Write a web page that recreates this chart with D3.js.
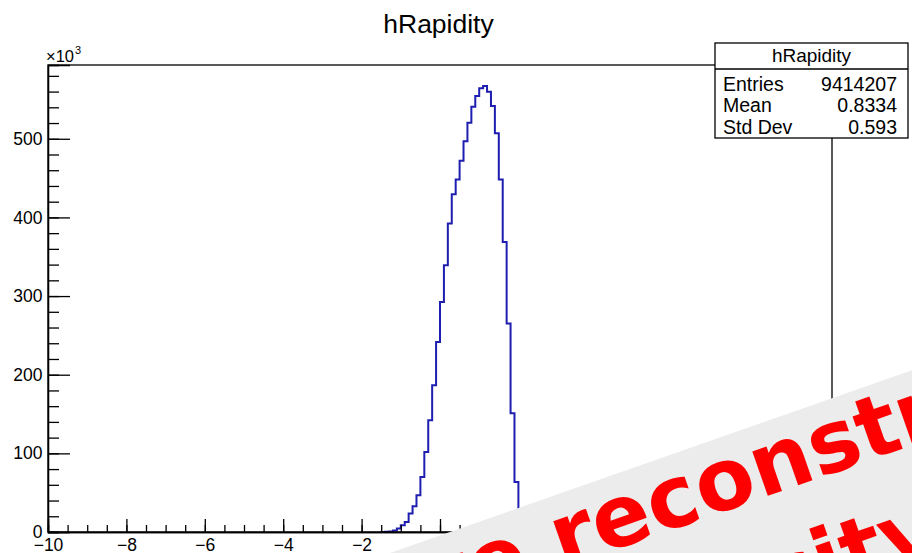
<!DOCTYPE html>
<html><head><meta charset="utf-8">
<script src="https://cdn.jsdelivr.net/npm/d3@7"></script>
<style>body{margin:0;background:#fff;} svg{display:block;}</style>
</head><body>
<svg id="c" width="912" height="553"></svg>
<script>
// ---- data (counts in units of 10^3 per 0.1-wide bin) ----
const binLeft = [-1.5,-1.4,-1.3,-1.2,-1.1,-1.0,-0.9,-0.8,-0.7,-0.6,-0.5,-0.4,-0.3,-0.2,-0.1,0.0,0.1,0.2,0.3,0.4,0.5,0.6,0.7,0.8,0.9,1.0,1.1,1.2,1.3,1.4,1.5,1.6,1.7,1.8,1.9,2.0,2.1];
const counts = [0.05,0.2,0.6,2,4.5,8.5,12.8,23.4,32.7,46.7,70,101.8,142,186.6,241.7,292.6,339.3,392.4,429.4,448.3,472,497,520.4,540.7,554.3,564.1,567,559.8,541.6,506.9,448.3,368.9,265.1,151,63.6,8,0.8];
const binWidth = 0.1;
const xMajorTicks = [-10,-8,-6,-4,-2,0,2,4,6,8,10];
const xMinorTicks = [-10,-9.5,-9,-8.5,-8,-7.5,-7,-6.5,-6,-5.5,-5,-4.5,-4,-3.5,-3,-2.5,-2,-1.5,-1,-0.5,0,0.5,1,1.5,2,2.5,3,3.5,4,4.5,5,5.5,6,6.5,7,7.5,8,8.5,9,9.5,10];
const yMajorTicks = [0,100,200,300,400,500];
const yMinorTicks = [0,20,40,60,80,100,120,140,160,180,200,220,240,260,280,300,320,340,360,380,400,420,440,460,480,500,520,540,560,580];
const statsLabels = ["Entries","Mean","Std Dev"];
const statsValues = ["9414207","0.8334","0.593"];
const histName = "hRapidity";
const bannerLines = ["Before reconstruction","of velocity"];

const svg = d3.select("#c");
const W = 912, H = 553;
const L = 48, R = 832, T = 65, B = 532;
const x = d3.scaleLinear().domain([-10,10]).range([L,R]);
const y = d3.scaleLinear().domain([0,593.8]).range([B,T]);
const font = "'Liberation Sans', Arial, Helvetica, sans-serif";

svg.append("rect").attr("width",W).attr("height",H).attr("fill","#fff");

// title
svg.append("text").attr("x",438.5).attr("y",33).attr("text-anchor","middle")
  .attr("font-family",font).attr("font-size",26.5).attr("fill","#000").text(histName);

// histogram step line
const pts = [[x(binLeft[0]), y(0)]];
binLeft.forEach((b,i)=>{ pts.push([x(b), y(counts[i])]); pts.push([x(b+binWidth), y(counts[i])]); });
pts.push([x(binLeft[binLeft.length-1]+binWidth), y(0)]);
svg.append("path").attr("d", d3.line()(pts)).attr("fill","none")
  .attr("stroke","#1e1eb0").attr("stroke-width",2);

// frame
svg.append("rect").attr("x",L).attr("y",T).attr("width",R-L).attr("height",B-T)
  .attr("fill","none").attr("stroke","#000").attr("stroke-width",1.3);

// x axis
const gx = svg.append("g").attr("transform",`translate(0,${B})`);
gx.call(d3.axisBottom(x).tickValues(xMinorTicks).tickSize(-7).tickFormat(""));
const gx2 = svg.append("g").attr("transform",`translate(0,${B})`);
gx2.call(d3.axisBottom(x).tickValues(xMajorTicks).tickSize(-13).tickPadding(7).tickFormat(d3.format("d")));
[gx,gx2].forEach(g=>{
  g.select(".domain").attr("stroke","#000").attr("stroke-width",1.3);
  g.selectAll(".tick line").attr("stroke","#000").attr("stroke-width",1.3);
  g.selectAll("text").attr("font-family",font).attr("font-size",17.5).attr("fill","#000");
});

// y axis
const gy = svg.append("g").attr("transform",`translate(${L},0)`);
gy.call(d3.axisLeft(y).tickValues(yMinorTicks).tickSize(-11).tickFormat(""));
const gy2 = svg.append("g").attr("transform",`translate(${L},0)`);
gy2.call(d3.axisLeft(y).tickValues(yMajorTicks).tickSize(-22).tickPadding(5.5).tickFormat(d3.format("d")));
[gy,gy2].forEach(g=>{
  g.select(".domain").attr("stroke","#000").attr("stroke-width",1.3);
  g.selectAll(".tick line").attr("stroke","#000").attr("stroke-width",1.3);
  g.selectAll("text").attr("font-family",font).attr("font-size",17.5).attr("fill","#000");
});

// x10^3 multiplier
const mult = svg.append("text").attr("x",46).attr("y",62).attr("font-family",font).attr("font-size",16.5).attr("fill","#000");
mult.append("tspan").text("\u00d710");
mult.append("tspan").attr("font-size",11).attr("dy",-8.5).attr("dx",1).text("3");

// stats box
const bx = 715, by = 43, bw = 193, bh = 95;
svg.append("rect").attr("x",bx).attr("y",by).attr("width",bw).attr("height",bh)
  .attr("fill","#fff").attr("stroke","#000").attr("stroke-width",1.3);
svg.append("line").attr("x1",bx).attr("x2",bx+bw).attr("y1",69).attr("y2",69).attr("stroke","#000").attr("stroke-width",1.3);
svg.append("text").attr("x",bx+bw/2).attr("y",62).attr("text-anchor","middle")
  .attr("font-family",font).attr("font-size",19).attr("fill","#000").text(histName);
const rowY = [90.5,112,133.5];
statsLabels.forEach((s,i)=>{
  svg.append("text").attr("x",723).attr("y",rowY[i]).attr("font-family",font).attr("font-size",19.5).attr("fill","#000").text(s);
  svg.append("text").attr("x",897).attr("y",rowY[i]).attr("text-anchor","end").attr("font-family",font).attr("font-size",19.5).attr("fill","#000").text(statsValues[i]);
});

// overlay banner
const bg = svg.append("g").attr("transform","translate(562,568) rotate(-19.3)");
bg.append("rect").attr("x",-3000).attr("y",-71).attr("width",6000).attr("height",500).attr("fill","#ececec");
const bfont = "'DejaVu Sans', sans-serif";
function placeLine(str, key, anchorX, baseY){
  const t = bg.append("text").attr("y",baseY).attr("font-family",bfont).attr("font-weight","bold")
    .attr("font-size",86).attr("fill","#ff0000").text(str);
  const idx = str.indexOf(key);
  const off = idx>0 ? t.node().getSubStringLength(0, idx) : 0;
  t.attr("x", anchorX - off);
}
placeLine(bannerLines[0], "reconstr", 0, 0);
placeLine(bannerLines[1], "ity", 239, 110);
</script>
</body></html>
